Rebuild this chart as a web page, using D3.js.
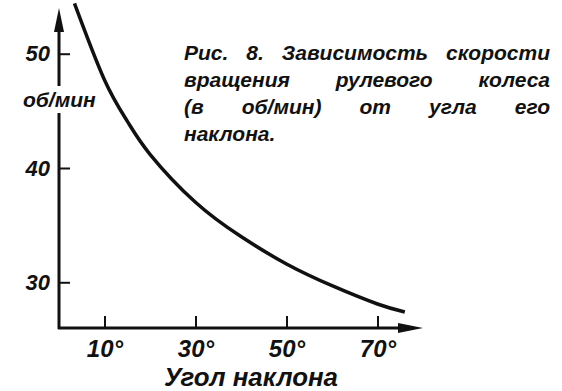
<!DOCTYPE html>
<html>
<head>
<meta charset="utf-8">
<script src="https://cdn.jsdelivr.net/npm/d3@7"></script>
<style>
  body { margin: 0; background: #fff; }
  svg text { font-family: 'Liberation Sans', Arial, sans-serif; font-style: italic; fill: #111; }
</style>
</head>
<body>
<div id="chart"></div>
<script>
// angle of tilt (deg) vs steering wheel speed (rpm)
const angles = [3.4, 10, 15, 20, 30, 40, 50, 60, 70, 76];
const speeds = [54.4, 47.7, 44.1, 41.2, 37.0, 34.0, 31.6, 29.7, 28.1, 27.4];
const xTicks = [10, 30, 50, 70];
const yTicks = [30, 40, 50];
const yUnit = 'об/мин';
const xTitle = 'Угол наклона';
const captionLines = [
  'Рис. 8. Зависимость скорости',
  'вращения рулевого колеса',
  '(в об/мин) от угла его',
  'наклона.'
];

const width = 562, height = 391;
const svg = d3.select('#chart').append('svg')
  .attr('width', width)
  .attr('height', height);

const x = d3.scaleLinear().domain([0, 80]).range([59, 423]);
const y = d3.scaleLinear().domain([26, 54]).range([328, 8]);

const ink = '#111';

// y axis: ticks point inwards, labels on the left
const yAxis = svg.append('g')
  .attr('transform', `translate(${x(0)},0)`)
  .call(d3.axisLeft(y).tickValues(yTicks).tickSizeInner(-11).tickSizeOuter(0).tickPadding(9).tickFormat(d => d));
yAxis.select('.domain').remove();
yAxis.selectAll('line').attr('stroke', ink).attr('stroke-width', 2);
yAxis.selectAll('text').attr('font-size', 22).attr('font-family', null).style('font-weight', 'bold');

// x axis
const xAxis = svg.append('g')
  .attr('transform', `translate(0,${y(26)})`)
  .call(d3.axisBottom(x).tickValues(xTicks).tickSizeInner(-12).tickSizeOuter(0).tickPadding(12).tickFormat(d => d + '°'));
xAxis.select('.domain').remove();
xAxis.selectAll('line').attr('stroke', ink).attr('stroke-width', 2);
xAxis.selectAll('text').attr('font-size', 24).attr('font-family', null).style('font-weight', 'bold');

// axis lines with arrows
svg.append('line')
  .attr('x1', x(0)).attr('y1', y(26) + 1)
  .attr('x2', x(0)).attr('y2', 28)
  .attr('stroke', ink).attr('stroke-width', 3);
svg.append('path')
  .attr('d', `M${x(0)},8 L${x(0) - 5},32 L${x(0) + 5},32 Z`)
  .attr('fill', ink);
svg.append('line')
  .attr('x1', x(0) - 1).attr('y1', y(26))
  .attr('x2', 402).attr('y2', y(26))
  .attr('stroke', ink).attr('stroke-width', 3);
svg.append('path')
  .attr('d', `M423,${y(26)} L398,${y(26) - 5} L398,${y(26) + 5} Z`)
  .attr('fill', ink);

// unit label sits over the y axis
svg.append('rect')
  .attr('x', 20).attr('y', 86).attr('width', 84).attr('height', 27)
  .attr('fill', '#fff');
svg.append('text')
  .attr('x', 23).attr('y', 107)
  .attr('font-size', 21).style('font-weight', 'bold')
  .text(yUnit);

// curve
const line = d3.line()
  .x((d, i) => x(angles[i]))
  .y(d => y(d))
  .curve(d3.curveNatural);
svg.append('path')
  .datum(speeds)
  .attr('d', line)
  .attr('fill', 'none')
  .attr('stroke', ink)
  .attr('stroke-width', 3.5);

// x title
svg.append('text')
  .attr('x', 164).attr('y', 386)
  .attr('font-size', 26).style('font-weight', 'bold')
  .attr('textLength', 174).attr('lengthAdjust', 'spacingAndGlyphs')
  .text(xTitle);

// caption, justified between two edges
const capLeft = 184, capRight = 550;
captionLines.forEach((ln, i) => {
  const yy = 60 + i * 27;
  const words = ln.split(' ');
  const nodes = words.map(w => svg.append('text')
    .attr('y', yy).attr('font-size', 21).style('font-weight', 'bold').text(w));
  const widths = nodes.map(n => n.node().getComputedTextLength());
  const total = d3.sum(widths);
  const last = i === captionLines.length - 1;
  const gap = last || words.length < 2 ? 6 : (capRight - capLeft - total) / (words.length - 1);
  let cx = capLeft;
  nodes.forEach((n, k) => { n.attr('x', cx); cx += widths[k] + gap; });
});
</script>
</body>
</html>
